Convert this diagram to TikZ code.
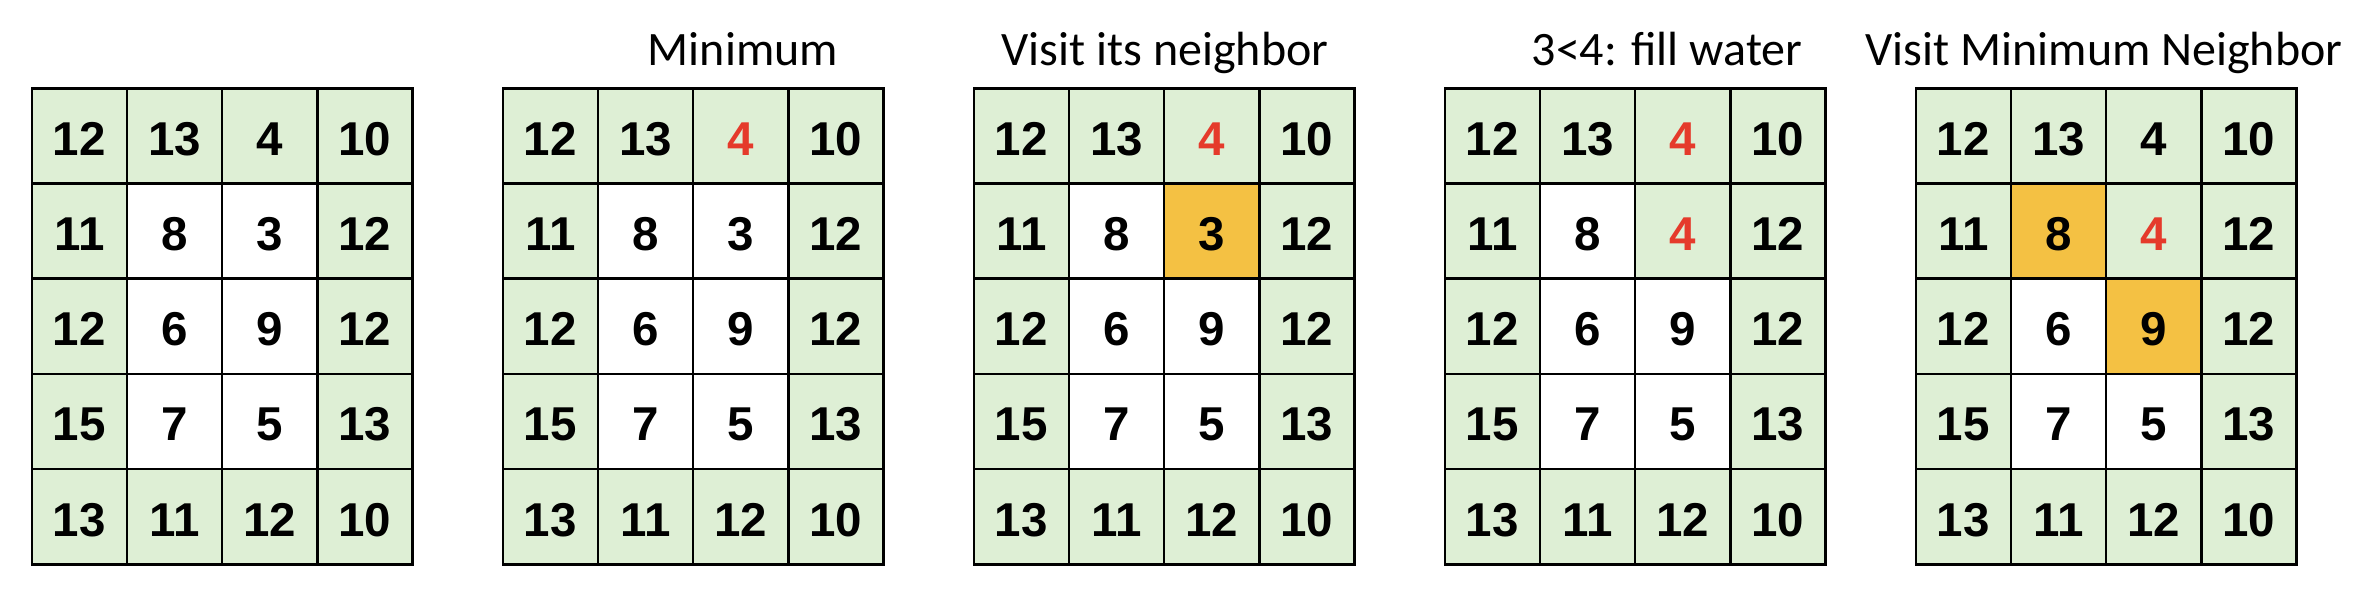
\documentclass[tikz,border=0pt]{standalone}
\usepackage{fontspec}
\newfontfamily\numfont{Liberation Sans}
\newfontfamily\titlefont{Carlito}
\definecolor{cgreen}{HTML}{DEEFD5}
\definecolor{corange}{HTML}{F4C143}
\definecolor{cred}{HTML}{E53A2B}
\tikzset{
  cell/.style={draw=black, line width=2.5pt, minimum width=95.2pt, minimum height=95.2pt,
    inner sep=0pt, anchor=north west, text height=39pt, text depth=0pt,
    font=\numfont\bfseries\fontsize{47.5}{50}\selectfont},
  title/.style={anchor=base, inner sep=0pt, font=\titlefont\fontsize{48}{52}\selectfont},
  redtext/.style={text=cred},
  hot/.style={fill=corange},
  wet/.style={fill=cgreen},
  % special cells: c<grid>-<row>-<col>
  c2-1-3/.style={redtext},
  c3-1-3/.style={redtext},
  c3-2-3/.style={hot},
  c4-1-3/.style={redtext},
  c4-2-3/.style={wet, redtext},
  c5-2-2/.style={hot},
  c5-2-3/.style={wet, redtext},
  c5-3-3/.style={hot},
}
% cells whose value has been raised by filled water
\expandafter\def\csname val4-2-3\endcsname{4}
\expandafter\def\csname val5-2-3\endcsname{4}
\begin{document}
\begin{tikzpicture}[x=1pt, y=-1pt]
\useasboundingbox (0,0) rectangle (2380,598);
\foreach \k/\gx in {1/30.5, 2/501.5, 3/972.5, 4/1443.5, 5/1914.5}{
  \foreach \r/\vals in {1/{12,13,4,10}, 2/{11,8,3,12}, 3/{12,6,9,12}, 4/{15,7,5,13}, 5/{13,11,12,10}}{
    \foreach \v [count=\c] in \vals {
      \pgfmathtruncatemacro\inner{(\r>1)&&(\r<5)&&(\c>1)&&(\c<4)}
      \ifnum\inner=1 \def\fillc{white}\else\def\fillc{cgreen}\fi
      \ifcsname val\k-\r-\c\endcsname
        \edef\shown{\csname val\k-\r-\c\endcsname}%
      \else
        \edef\shown{\v}%
      \fi
      \node[cell, fill=\fillc, c\k-\r-\c/.try] (g\k-\r-\c)
        at ({\gx+(\c-1)*95.2}, {87+(\r-1)*95.2}) {\shown};
    }
  }
}
\node[title] (t2) at (743,65) {Minimum};
\node[title] (t3) at (1165,65) {Visit its neighbor};
\node[title] (t4) at (1667,65) {3<4: fill water};
\node[title] (t5) at (2104,65) {Visit Minimum Neighbor};
\end{tikzpicture}
\end{document}
